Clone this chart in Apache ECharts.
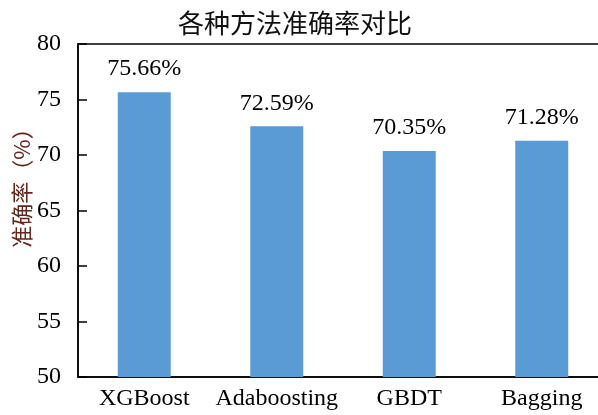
<!DOCTYPE html>
<html>
<head>
<meta charset="utf-8">
<script src="https://cdn.jsdelivr.net/npm/echarts@6/dist/echarts.min.js"></script>
<style>
  html, body { margin: 0; padding: 0; background: #fff; }
  #chart { width: 598px; height: 415px; }
</style>
</head>
<body>
<div id="chart"></div>
<script>
const methods = ['XGBoost', 'Adaboosting', 'GBDT', 'Bagging'];
const accuracy = [75.66, 72.59, 70.35, 71.28];
const yTicks = { min: 50, max: 80, step: 5 };

const serif = '"Liberation Serif", "Times New Roman", "Noto Sans CJK SC", serif';
const chart = echarts.init(document.getElementById('chart'));

const option = {
    animation: false,
    title: {
        text: '各种方法准确率对比',
        left: 173,
        top: 5,
        textStyle: {
            fontFamily: '"Noto Sans CJK SC", serif',
            fontSize: 26,
            fontWeight: 'normal',
            color: '#111'
        }
    },
    grid: {
        left: 78,
        right: -10,
        top: 44,
        bottom: 38,
        outerBoundsMode: 'none',
        containLabel: false,
        show: true,
        borderColor: '#000',
        borderWidth: 1.5
    },
    xAxis: {
        type: 'category',
        data: methods,
        axisLine: { lineStyle: { color: '#000', width: 1.5 } },
        axisTick: { inside: true, alignWithLabel: true, length: 5, lineStyle: { color: '#000', width: 1.5 } },
        axisLabel: { interval: 0, fontFamily: serif, fontSize: 24, color: '#000', margin: 10 }
    },
    yAxis: {
        type: 'value',
        min: yTicks.min,
        max: yTicks.max,
        interval: yTicks.step,
        name: '准确率（%）',
        nameLocation: 'middle',
        nameRotate: 90,
        nameGap: 45,
        nameMoveOverlap: false,
        nameTextStyle: {
            fontFamily: '"Noto Sans CJK SC", serif',
            fontSize: 22,
            color: '#62261a',
            padding: [0, 0, 0, 56]
        },
        axisLine: { show: true, lineStyle: { color: '#000', width: 1.5 } },
        axisTick: { show: true, inside: true, length: 9, lineStyle: { color: '#000', width: 1.5 } },
        axisLabel: { fontFamily: serif, fontSize: 24, color: '#000', margin: 17 },
        splitLine: { show: false }
    },
    series: [{
        type: 'bar',
        data: accuracy,
        barWidth: 53,
        itemStyle: { color: '#5B9BD5' },
        label: {
            show: true,
            position: 'top',
            distance: 11,
            fontFamily: serif,
            fontSize: 24,
            color: '#000',
            formatter: (p) => p.value.toFixed(2) + '%'
        }
    }]
};

chart.setOption(option);
</script>
</body>
</html>
